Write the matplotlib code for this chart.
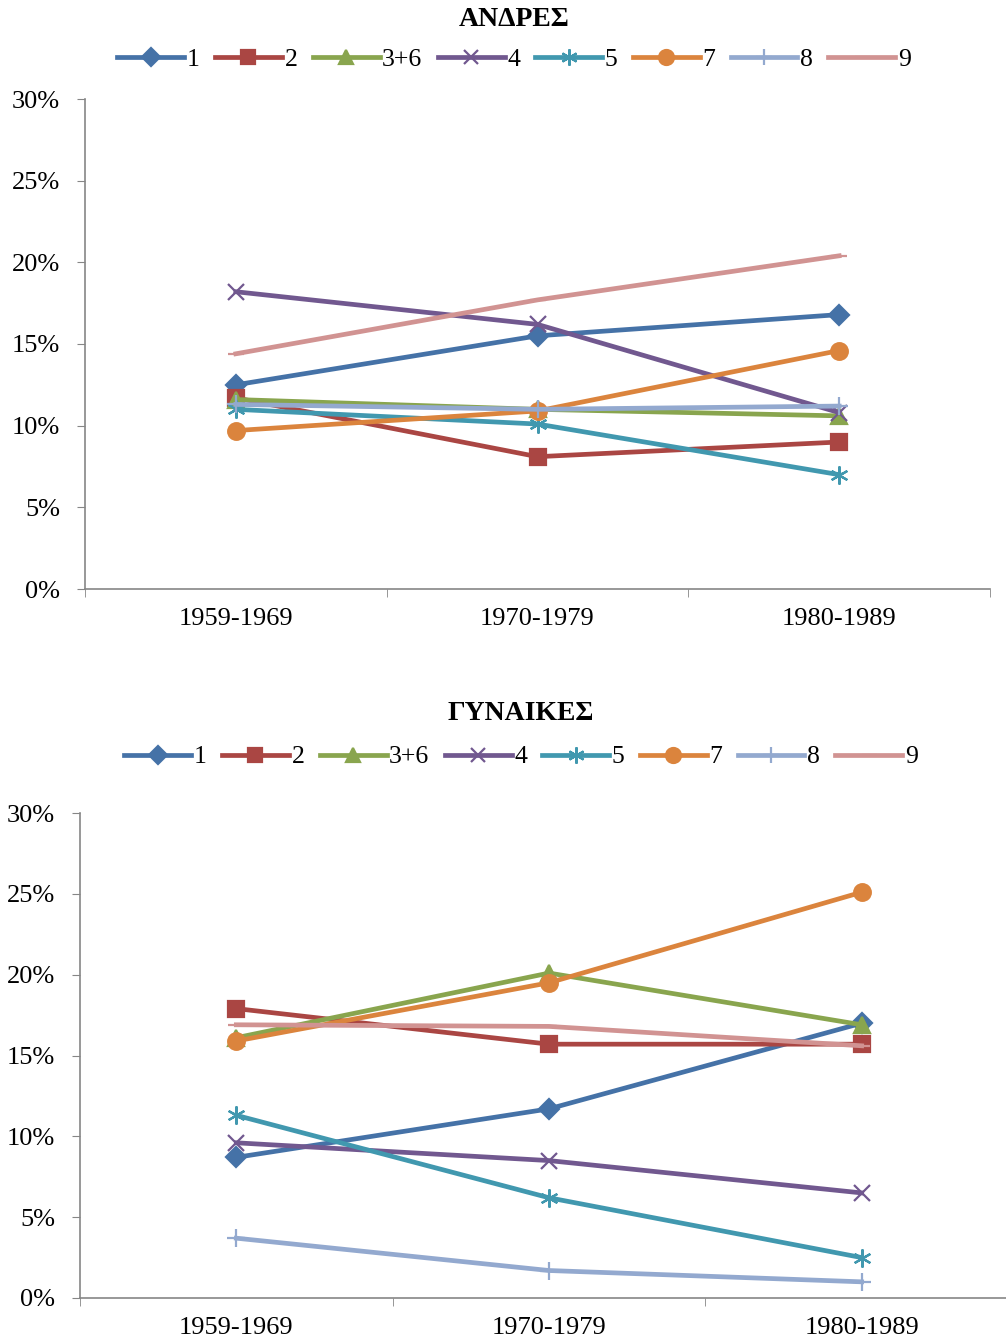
import matplotlib
matplotlib.use('Agg')
import matplotlib.pyplot as plt
import numpy as np

plt.rcParams['font.family'] = ['Liberation Serif', 'DejaVu Serif']

periods = ['1959-1969', '1970-1979', '1980-1989']
series_names = ['1', '2', '3+6', '4', '5', '7', '8', '9']

# percentages
men_1 = [12.5, 15.5, 16.8]
men_2 = [11.7, 8.1, 9.0]
men_36 = [11.6, 11.0, 10.6]
men_4 = [18.2, 16.2, 10.8]
men_5 = [11.0, 10.1, 7.0]
men_7 = [9.7, 10.9, 14.6]
men_8 = [11.3, 11.0, 11.2]
men_9 = [14.4, 17.7, 20.4]

women_1 = [8.7, 11.7, 17.0]
women_2 = [17.9, 15.7, 15.7]
women_36 = [16.1, 20.1, 16.9]
women_4 = [9.6, 8.5, 6.5]
women_5 = [11.3, 6.2, 2.5]
women_7 = [15.9, 19.5, 25.1]
women_8 = [3.7, 1.7, 1.0]
women_9 = [16.9, 16.8, 15.6]

colors = ['#4572A7', '#AA4643', '#89A54E', '#71588F', '#4198AF', '#DB843D', '#93A9CF', '#D19392']
markers = ['D', 's', '^', 'x', (6, 2, 0), 'o', '+', '_']
sizes = [10, 11, 11, 11, 13, 12, 13, 12]


def panel(fig, rect, title, data, title_y, legend_y, legend_x):
    ax = fig.add_axes(rect)
    x = np.arange(len(periods))
    handles = []
    for vals, name, c, m, s in zip(data, series_names, colors, markers, sizes):
        h, = ax.plot(x, np.array(vals) / 100, color=c, lw=3.4, marker=m, ms=s,
                     mew=1.6, mec=c, mfc=c, label=name, clip_on=False)
        handles.append(h)
    ax.set_xlim(-0.5, 2.5)
    ax.set_ylim(0, 0.30)
    ax.set_yticks(np.arange(0, 0.301, 0.05))
    ax.set_yticklabels([f'{int(round(v * 100))}%' for v in np.arange(0, 0.301, 0.05)])
    ax.set_xticks(x)
    ax.set_xticklabels(periods)
    ax.set_xticks([-0.5, 0.5, 1.5, 2.5], minor=True)
    ax.tick_params(axis='x', which='major', length=0, labelsize=19, pad=14)
    ax.tick_params(axis='x', which='minor', length=6, color='#868686')
    ax.tick_params(axis='y', length=6, color='#868686', labelsize=19, pad=12)
    for sp in ['top', 'right']:
        ax.spines[sp].set_visible(False)
    for sp in ['left', 'bottom']:
        ax.spines[sp].set_color('#868686')
        ax.spines[sp].set_linewidth(1.2)
    fig.text(legend_x, title_y, title, ha='center', va='center', fontsize=20, fontweight='bold')
    fig.legend(handles=handles, loc='center', bbox_to_anchor=(legend_x, legend_y), ncol=8,
               frameon=False, fontsize=18.5, handlelength=2.6, handletextpad=0.1,
               columnspacing=0.6, markerscale=0.9)
    return ax


fig = plt.figure(figsize=(10.06, 13.43), dpi=100)

panel(fig, [85 / 1006, 1 - 589 / 1343, 905 / 1006, 490 / 1343], 'ΑΝΔΡΕΣ',
      [men_1, men_2, men_36, men_4, men_5, men_7, men_8, men_9],
      1 - 20 / 1343, 1 - 60 / 1343, 514 / 1006)
panel(fig, [80 / 1006, 1 - 1298 / 1343, 938 / 1006, 485 / 1343], 'ΓΥΝΑΙΚΕΣ',
      [women_1, women_2, women_36, women_4, women_5, women_7, women_8, women_9],
      1 - 713 / 1343, 1 - 757 / 1343, 521 / 1006)

fig.savefig('out.png', dpi=100)
